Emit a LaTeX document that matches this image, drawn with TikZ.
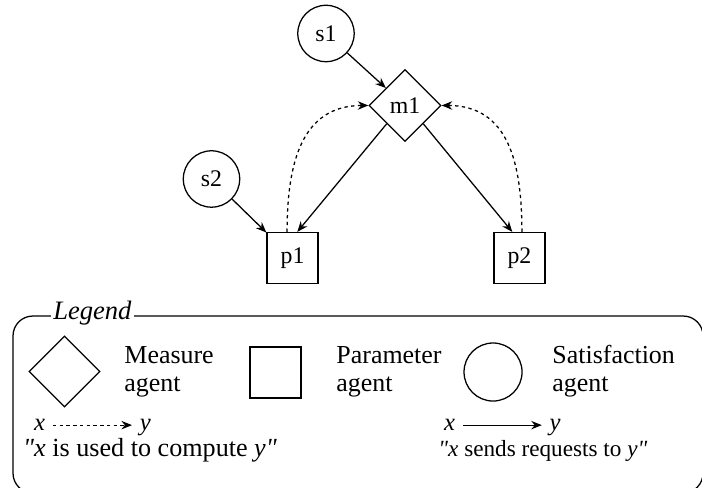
\documentclass[tikz,border=0pt]{standalone}
\usepackage{fontspec}
\setmainfont{Liberation Serif}
\usepackage{tikz}
\usetikzlibrary{positioning,arrows.meta,shapes.geometric}

\newcommand{\dq}{\textquotedbl}

\begin{document}
\begin{tikzpicture}[
  font=\fontsize{11.3}{13}\selectfont,
  measure/.style={diamond, draw, line width=0.6pt, inner sep=0pt, aspect=1,
                  minimum width=1.2cm, minimum height=1.2cm},
  param/.style={rectangle, draw, line width=0.6pt, inner sep=0pt,
                minimum width=0.85cm, minimum height=0.85cm},
  satis/.style={circle, draw, line width=0.6pt, inner sep=0pt, minimum size=0.94cm},
  req/.style={-{Stealth[length=5pt,width=4pt]}, line width=0.6pt},
  use/.style={-{Stealth[length=5pt,width=4pt]}, line width=0.6pt,
              dash pattern=on 1.6pt off 1.6pt},
  legtext/.style={font=\fontsize{12.3}{13.3}\selectfont, align=left, anchor=west, inner sep=0pt},
  note/.style={font=\fontsize{11.7}{13}\selectfont, anchor=base west, inner sep=0pt},
  ends/.style={note, inner xsep=3.5pt}]
\useasboundingbox (0,0) rectangle (11.7,-8.117);
\clip (0,0) rectangle (11.7,-8.117);

% agents
\node[satis]   (s1) at (5.433,-0.558) {s1};
\node[measure] (m1) at (6.75,-1.758)  {m1};
\node[satis]   (s2) at (3.525,-2.983) {s2};
\node[param]   (p1) at (4.875,-4.3)   {p1};
\node[param]   (p2) at (8.658,-4.3)   {p2};

% requests
\draw[req] (s1) -- (m1);
\draw[req] (s2) -- (p1);
\draw[req] (m1.south west) -- ([xshift=0.08cm]p1.north);
\draw[req] (m1.south east) -- ([xshift=-0.12cm]p2.north);

% computation
\draw[use] ([xshift=-0.09cm]p1.north) to[out=90,in=180,looseness=1.15] (m1.west);
\draw[use] ([xshift=0.04cm]p2.north) to[out=90,in=0,looseness=1.15] (m1.east);

% legend
\draw[line width=0.6pt, rounded corners=0.33cm] (0.217,-5.267) rectangle (11.717,-8.217);
\node[fill=white, inner sep=1pt, font=\fontsize{12.6}{14}\selectfont\itshape] (legend) at (1.54,-5.217) {Legend};

\node[measure, minimum width=1.183cm, minimum height=1.183cm] (lm) at (1.075,-6.192) {};
\node[legtext] (lmt) at (2.067,-6.19) {Measure\\agent};
\node[param] (lp) at (4.592,-6.208) {};
\node[legtext] (lpt) at (5.6,-6.19) {Parameter\\agent};
\node[satis, minimum size=0.967cm] (ls) at (8.217,-6.2) {};
\node[legtext] (lst) at (9.2,-6.19) {Satisfaction\\agent};

\node[ends] (ux) at (0.44,-7.18) {\textit{x}};
\node[ends] (uy) at (2.2,-7.18)  {\textit{y}};
\draw[use] (ux.east) -- (ux.east -| uy.west);
\node[note, font=\fontsize{12.4}{14}\selectfont] (ut) at (0.38,-7.61)
  {\textit{\dq x} is used to compute \textit{y\dq}};

\node[ends] (rx) at (7.27,-7.18) {\textit{x}};
\node[ends] (ry) at (9.03,-7.18) {\textit{y}};
\draw[req] (rx.east) -- (rx.east -| ry.west);
\node[note, font=\fontsize{11}{13}\selectfont] (rt) at (7.3,-7.61)
  {\textit{\dq x} sends requests to \textit{y\dq}};
\end{tikzpicture}
\end{document}
